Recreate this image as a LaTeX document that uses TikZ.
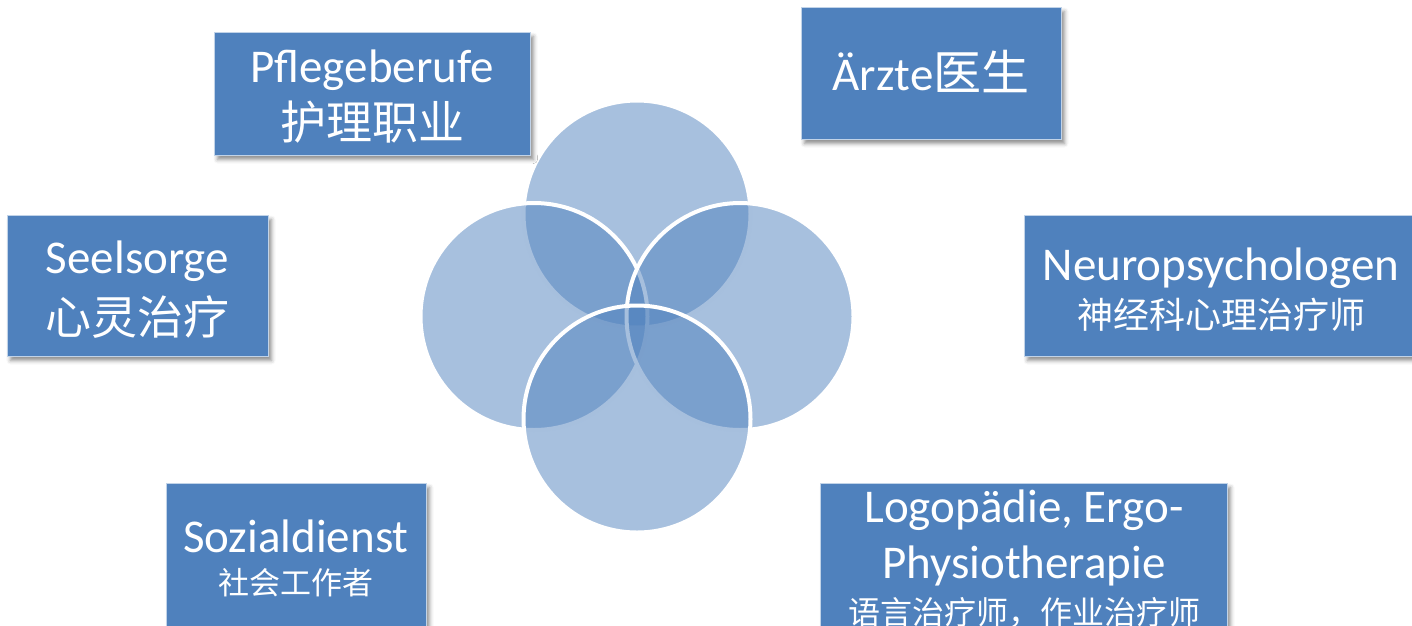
\documentclass[tikz,border=0pt]{standalone}
\usepackage{fontspec}
\setmainfont{Carlito}
\newfontfamily\cjk{Noto Sans CJK SC}
\usetikzlibrary{shadows.blur}
\definecolor{boxblue}{HTML}{4F81BD}
\begin{document}
\begin{tikzpicture}[x=1pt,y=-1pt,
  box/.style={fill=boxblue, draw=white!65!boxblue, line width=1pt, inner sep=0pt, anchor=north west,
    blur shadow={shadow xshift=3pt,shadow yshift=-4pt,shadow blur radius=4pt,shadow opacity=45}},
  lat/.style={text=white, anchor=base, inner sep=0pt, font=\fontsize{47}{56}\selectfont},
  zh/.style={text=white, anchor=base, inner sep=0pt},
  ring/.style={circle, inner sep=0pt, minimum size=227pt, fill=boxblue, fill opacity=0.5, draw=white, draw opacity=1, line width=4pt}]
\useasboundingbox (0,0) rectangle (1412,625);
\clip (0,0) rectangle (1412,625);
% circles
\node[ring] (ctop) at (637,214) {};
\node[ring] (cleft) at (534,316.5) {};
\node[ring] (cright) at (740,316.5) {};
\node[ring] (cbot) at (637,419) {};
% boxes
\node[box, minimum width=316pt, minimum height=123pt] (bpflege) at (214,32) {};
\node[box, minimum width=260pt, minimum height=132pt] (baerzte) at (801,7) {};
\node[box, minimum width=261pt, minimum height=141pt] (bseel) at (7,215) {};
\node[box, minimum width=394pt, minimum height=141pt] (bneuro) at (1024,215) {};
\node[box, minimum width=407pt, minimum height=170pt] (blogo) at (820,483) {};
\node[box, minimum width=260pt, minimum height=170pt] (bsozial) at (166,483) {};
% texts
\node[lat] (tpflege) at (372,82) {Pflegeberufe};
\node[zh, font={\cjk\fontsize{46}{50}\selectfont}] (zpflege) at (372,139) {护理职业};
\node[lat] (taerzte) at (931,90) {Ärzte{\cjk\fontsize{48}{50}\selectfont 医生}};
\node[lat] (tseel) at (137.5,273) {Seelsorge};
\node[zh, font={\cjk\fontsize{46}{50}\selectfont}] (zseel) at (137.5,334) {心灵治疗};
\node[lat] (tneuro) at (1221,280) {Neuropsychologen};
\node[zh, font={\cjk\fontsize{36}{40}\selectfont}] (zneuro) at (1221,328) {神经科心理治疗师};
\node[lat] (tsozial) at (296,552) {Sozialdienst};
\node[zh, font={\cjk\fontsize{31}{35}\selectfont}] (zsozial) at (296,594) {社会工作者};
\node[lat] (tlogo1) at (1024,522) {Logopädie, Ergo-};
\node[lat] (tlogo2) at (1024,578) {Physiotherapie};
\node[zh, font={\cjk\fontsize{32}{36}\selectfont}] (zlogo) at (1024,624) {语言治疗师，作业治疗师};
\end{tikzpicture}
\end{document}
